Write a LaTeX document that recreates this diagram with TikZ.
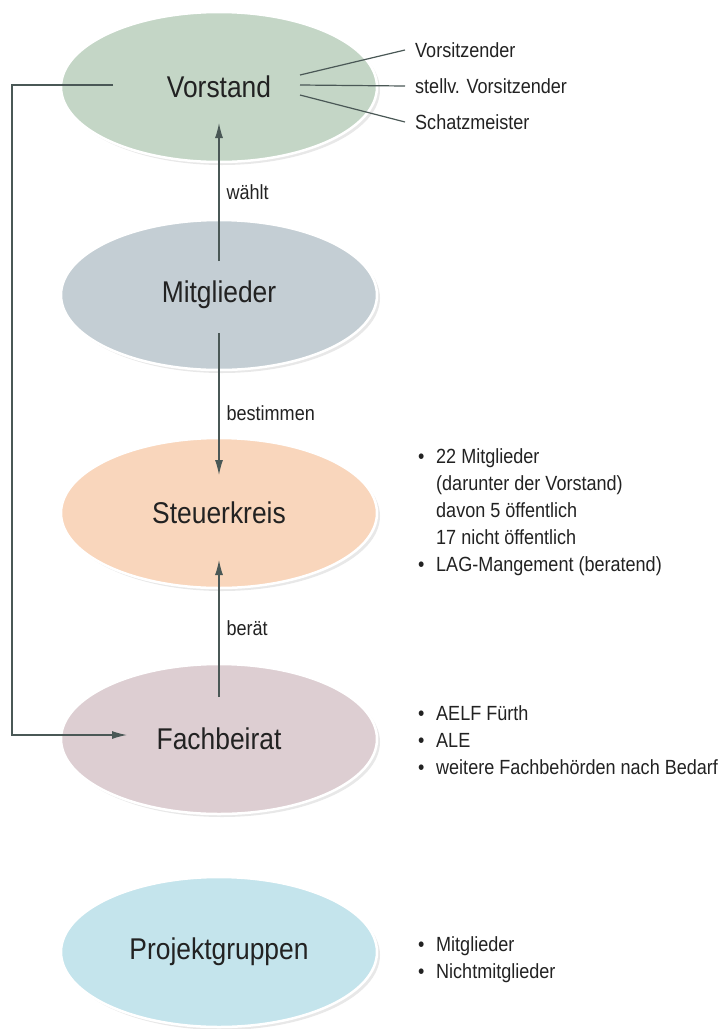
\documentclass[tikz,border=0pt]{standalone}
\usepackage{fontspec}
\setmainfont{Liberation Sans}[FakeStretch=0.88]
\usepackage{xcolor}
\usepackage{tikz}
\usetikzlibrary{shapes.geometric,arrows.meta,positioning,calc,shadows}

\definecolor{vorstandgreen}{HTML}{C4D6C6}
\definecolor{mitgliedgray}{HTML}{C4CED4}
\definecolor{steuerpeach}{HTML}{F9D6BC}
\definecolor{fachmauve}{HTML}{DDCED2}
\definecolor{projektcyan}{HTML}{C4E4EC}
\definecolor{linegray}{HTML}{4A5856}
\definecolor{textgray}{HTML}{222222}

\newcommand{\bul}{\makebox[18pt][l]{\textbullet}}
\newcommand{\ind}{\hspace*{18pt}}

\begin{document}
\begin{tikzpicture}[x=1pt, y=-1pt,
    org/.style={ellipse, draw=white, line width=2.5pt, minimum width=316pt, minimum height=150pt, inner sep=0pt,
      text=textgray, font=\fontsize{30}{36}\selectfont,
      drop shadow={shadow xshift=3pt, shadow yshift=-3pt, opacity=0.18}},
    note/.style={text=textgray, font=\fontsize{20.5}{27}\selectfont, align=left, inner sep=0pt},
    arr/.style={linegray, line width=1.2pt, -{Latex[length=15pt,width=8pt]}},
    tie/.style={linegray, line width=1.2pt}]
        \useasboundingbox (0,0) rectangle (724,1029);

        % Gremien
        \node (vorstand) [org, fill=vorstandgreen] at (219,87) {Vorstand};
        \node (mitglieder) [org, fill=mitgliedgray] at (219,295) {Mitglieder};
        \node (steuer) [org, fill=steuerpeach] at (219,513) {Steuerkreis};
        \node (fach) [org, fill=fachmauve] at (219,739) {Fachbeirat};
        \node (projekt) [org, fill=projektcyan] at (219,952) {Projektgruppen};

        % Vorstand roles
        \node (vors) [note, anchor=west] at (415,50) {Vorsitzender};
        \node (stellv) [note, anchor=west] at (415,86) {stellv. Vorsitzender};
        \node (schatz) [note, anchor=west] at (415,122) {Schatzmeister};
        \draw[tie] ([shift={(81,-12)}]vorstand.center) -- ([xshift=-10pt]vors.west);
        \draw[tie] ([shift={(81,-2)}]vorstand.center) -- ([xshift=-10pt]stellv.west);
        \draw[tie] ([shift={(81,8)}]vorstand.center) -- ([xshift=-10pt]schatz.west);

        % Lists
        \node (steuerlist) [note, anchor=west] at (418,512) {\bul 22 Mitglieder\\ \ind(darunter der Vorstand)\\ \ind davon 5 öffentlich\\ \ind 17 nicht öffentlich\\ \bul LAG-Mangement (beratend)};
        \node (fachlist) [note, anchor=west] at (418,740) {\bul AELF Fürth\\ \bul ALE\\ \bul weitere Fachbehörden nach Bedarf};
        \node (projektlist) [note, anchor=west] at (418,960) {\bul Mitglieder\\ \bul Nichtmitglieder};

        % Connections
        \draw[arr] ([yshift=34pt]mitglieder.center) -- node[note, midway, right=7pt] {wählt} ([yshift=-36pt]vorstand.center);
        \draw[arr] ([yshift=-38pt]mitglieder.center) -- node[note, midway, right=7pt, yshift=-9pt] {bestimmen} ([yshift=38pt]steuer.center);
        \draw[arr] ([yshift=42pt]fach.center) -- node[note, midway, right=7pt] {berät} ([yshift=-47pt]steuer.center);
        \draw[arr] ([shift={(-106,-2)}]vorstand.center) -| (12,400) |- ([shift={(-92,-4)}]fach.center);
    \end{tikzpicture}
\end{document}
